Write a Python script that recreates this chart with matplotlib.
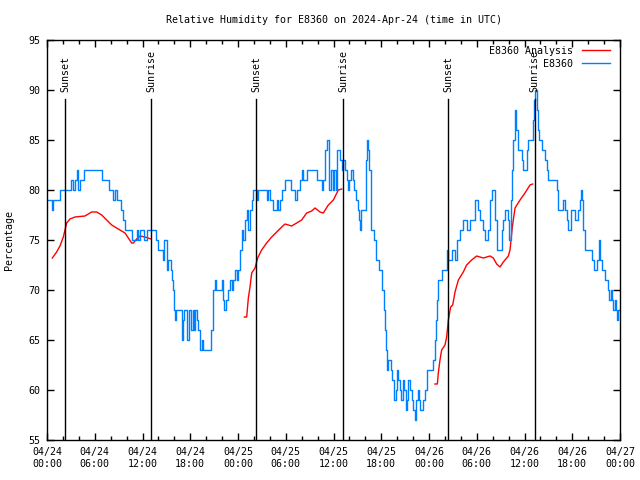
import numpy as np
import pandas as pd
import matplotlib
matplotlib.use("Agg")
from matplotlib import pyplot as plt
import matplotlib.dates as mdates

plt.rcParams['font.family'] = ['DejaVu Sans Mono']

# hours after 2024-04-24 00:00 UTC
obs_hours = [0.17, 0.59, 0.80, 1.63, 3.02, 3.31, 3.52, 3.73, 3.94, 4.15, 4.69, 6.95, 7.79, 8.34, 8.54,
             8.75, 9.30, 9.51, 9.80, 10.72, 11.27, 11.48, 11.69, 12.19, 12.52, 13.70, 13.99, 14.53, 14.70,
             15.04, 15.25, 15.54, 15.67, 15.79, 15.96, 16.08, 16.21, 16.92, 17.05, 17.21, 17.63, 17.88,
             18.05, 18.30, 18.47, 18.60, 18.81, 19.02, 19.23, 19.44, 19.56, 20.57, 20.82, 20.90, 21.11,
             21.24, 21.95, 22.16, 22.28, 22.49, 22.70, 23.00, 23.20, 23.41, 23.62, 23.83, 24.04, 24.25,
             24.46, 24.67, 24.88, 25.09, 25.30, 25.51, 25.72, 25.93, 26.35, 26.56, 27.60, 27.81, 28.02,
             28.44, 28.86, 29.07, 29.28, 29.49, 29.91, 30.66, 31.16, 31.37, 31.79, 32.00, 32.21, 32.63,
             33.89, 34.51, 34.72, 34.93, 35.14, 35.48, 35.69, 35.90, 36.10, 36.27, 36.48, 36.82, 37.03,
             37.24, 37.45, 37.66, 37.78, 37.95, 38.20, 38.41, 38.62, 38.79, 39.04, 39.21, 39.33, 39.46,
             40.08, 40.25, 40.38, 40.50, 40.71, 41.13, 41.30, 41.76, 42.05, 42.14, 42.39, 42.47, 42.60,
             42.76, 42.89, 43.18, 43.39, 43.60, 43.81, 44.02, 44.15, 44.36, 44.48, 44.69, 44.90, 45.07,
             45.19, 45.40, 45.61, 45.82, 46.03, 46.24, 46.37, 46.58, 46.74, 46.87, 47.29, 47.50, 47.71,
             48.54, 48.75, 48.88, 49.05, 49.17, 49.59, 50.22, 50.43, 50.85, 51.27, 51.48, 51.90, 52.31,
             52.73, 53.15, 53.78, 54.20, 54.41, 54.83, 55.04, 55.46, 55.67, 55.88, 56.29, 56.50, 57.13,
             57.34, 57.55, 57.97, 58.09, 58.26, 58.39, 58.60, 58.81, 58.93, 59.14, 59.64, 59.85, 60.27,
             60.49, 61.03, 61.19, 61.32, 61.53, 61.66, 61.78, 62.16, 62.58, 62.79, 63.00, 64.04, 64.25,
             64.67, 64.88, 65.09, 65.30, 65.51, 65.80, 66.35, 66.77, 66.98, 67.10, 67.23, 67.39, 67.60,
             68.44, 68.78, 69.07, 69.32, 69.41, 69.53, 69.70, 70.12, 70.54, 70.66, 70.87, 70.99, 71.16,
             71.37, 71.50, 71.67, 71.80, 71.90]
obs_rh = [79, 78, 79, 80, 81, 80, 81, 82, 80, 81, 82, 81, 80, 79, 80,
          79, 78, 77, 76, 75, 76, 75, 76, 75, 76, 75, 74, 73, 75,
          72, 73, 72, 71, 70, 68, 67, 68, 65, 67, 68, 65, 68,
          66, 68, 66, 68, 67, 66, 64, 65, 64, 66, 68, 70, 71,
          70, 71, 69, 68, 69, 70, 71, 70, 71, 72, 71, 72, 74,
          76, 75, 77, 78, 76, 78, 79, 80, 79, 80, 79, 80, 79,
          78, 79, 78, 79, 80, 81, 80, 79, 80, 81, 82, 81, 82,
          81, 80, 81, 84, 85, 80, 82, 80, 82, 80, 84, 83, 82,
          83, 82, 81, 80, 81, 82, 81, 80, 79, 78, 77, 76, 78,
          83, 85, 84, 82, 76, 75, 73, 72, 71, 70, 68, 66, 64,
          62, 63, 62, 61, 59, 60, 62, 61, 60, 59, 61, 60, 58,
          59, 61, 60, 59, 58, 57, 59, 60, 59, 58, 59, 60, 62,
          63, 65, 67, 69, 71, 72, 74, 73, 74, 73, 75, 76, 77,
          76, 77, 79, 78, 77, 76, 75, 76, 79, 80, 77, 74, 76,
          77, 78, 77, 75, 79, 82, 85, 88, 86, 84, 83, 82, 84,
          85, 87, 89, 90, 88, 86, 85, 84, 83, 82, 81, 80, 78,
          78, 79, 78, 77, 76, 78, 77, 78, 79, 80, 79, 76, 74,
          73, 72, 73, 74, 75, 73, 72, 71, 70, 69, 70, 69, 68,
          69, 68, 67, 68, 68]

# analysis runs, three separate night segments
ana_hours_1 = [0.67, 1.21, 1.63, 2.05, 2.26, 2.47, 2.89, 3.52, 4.77, 5.61, 6.24, 6.87, 7.50, 8.13,
               8.75, 9.38, 9.80, 10.22, 10.64, 10.85, 11.27, 11.69, 12.31, 13.07]
ana_rh_1 = [73.2, 73.8, 74.4, 75.3, 76.0, 76.7, 77.1, 77.3, 77.4, 77.8, 77.8, 77.5, 77.0, 76.5,
            76.2, 75.9, 75.7, 75.2, 74.7, 74.7, 75.1, 75.4, 75.3, 75.1]
ana_hours_2 = [24.80, 25.09, 25.30, 25.51, 25.72, 26.14, 26.47, 26.97, 27.60, 28.23, 28.86, 29.49,
               29.91, 30.74, 31.37, 32.00, 32.63, 33.26, 33.68, 34.30, 34.72, 35.35, 35.98, 36.61, 37.03]
ana_rh_2 = [67.3, 67.3, 69.2, 70.3, 71.7, 72.2, 73.2, 74.0, 74.7, 75.3, 75.8, 76.3,
            76.6, 76.4, 76.7, 77.0, 77.7, 77.9, 78.2, 77.8, 77.7, 78.5, 79.0, 80.0, 80.1]
ana_hours_3 = [48.75, 49.05, 49.17, 49.38, 49.59, 50.01, 50.22, 50.43, 50.72, 50.98, 51.27, 51.69,
               52.31, 52.73, 53.36, 53.99, 54.83, 55.67, 56.08, 56.50, 56.92, 57.34, 57.97, 58.18,
               58.47, 58.81, 59.44, 60.06, 60.69, 61.03]
ana_rh_3 = [60.6, 60.6, 61.7, 63.0, 64.0, 64.5, 65.3, 67.0, 68.3, 68.5, 69.8, 71.0,
            71.8, 72.5, 73.0, 73.4, 73.2, 73.4, 73.2, 72.6, 72.3, 72.8, 73.4, 74.0,
            76.3, 78.2, 79.0, 79.7, 80.5, 80.6]

sun_hours = [2.30, 13.11, 26.30, 37.23, 50.43, 61.28]
sun_labels = ["Sunset", "Sunrise", "Sunset", "Sunrise", "Sunset", "Sunrise"]

base = pd.Timestamp("2024-04-24 00:00")


def to_time(hours):
    return base + pd.to_timedelta(np.asarray(hours), unit="h")


fig = plt.figure(figsize=(6.4, 4.8), dpi=100)
ax = fig.add_axes([47 / 640, 40 / 480, 573 / 640, 400 / 480])

red = "#ff0000"
blue = "#0080ff"

ax.plot(to_time(ana_hours_1), ana_rh_1, color=red, lw=1.0, label="E8360 Analysis")
ax.plot(to_time(ana_hours_2), ana_rh_2, color=red, lw=1.0)
ax.plot(to_time(ana_hours_3), ana_rh_3, color=red, lw=1.0)
ax.plot(to_time(obs_hours), obs_rh, color=blue, lw=1.0, drawstyle="steps-post", label="E8360")

for h, lab in zip(sun_hours, sun_labels):
    t = base + pd.Timedelta(hours=h)
    ax.plot([t, t], [55, 89.1], color="black", lw=1.0)
    ax.text(t, 89.8, lab, rotation=90, ha="center", va="bottom", fontsize=7.2)

ax.set_xlim(base, base + pd.Timedelta(hours=72))
ax.set_ylim(55, 95)
ax.set_yticks(np.arange(55, 96, 5))
ax.xaxis.set_major_locator(mdates.HourLocator(byhour=range(0, 24, 6)))
ax.xaxis.set_minor_locator(mdates.HourLocator(byhour=range(0, 24, 2)))
ax.xaxis.set_major_formatter(mdates.DateFormatter("%m/%d\n%H:%M"))
ax.tick_params(which="both", direction="in", top=True, right=True, labelsize=7.2, width=1)
ax.tick_params(which="major", length=5, pad=5)
ax.tick_params(which="minor", length=3)
for s in ax.spines.values():
    s.set_linewidth(1)

ax.set_title("Relative Humidity for E8360 on 2024-Apr-24 (time in UTC)", fontsize=7.2, pad=12)
ax.set_ylabel("Percentage", fontsize=7.2, labelpad=10)

ax.legend(loc="upper right", bbox_to_anchor=(1 - 5 / 573, 1 - 1 / 400),
          markerfirst=False, frameon=False, fontsize=7.2,
          handlelength=2.8, handletextpad=0.9, labelspacing=0.3,
          borderaxespad=0.3, borderpad=0.2)

plt.savefig("out.png")
